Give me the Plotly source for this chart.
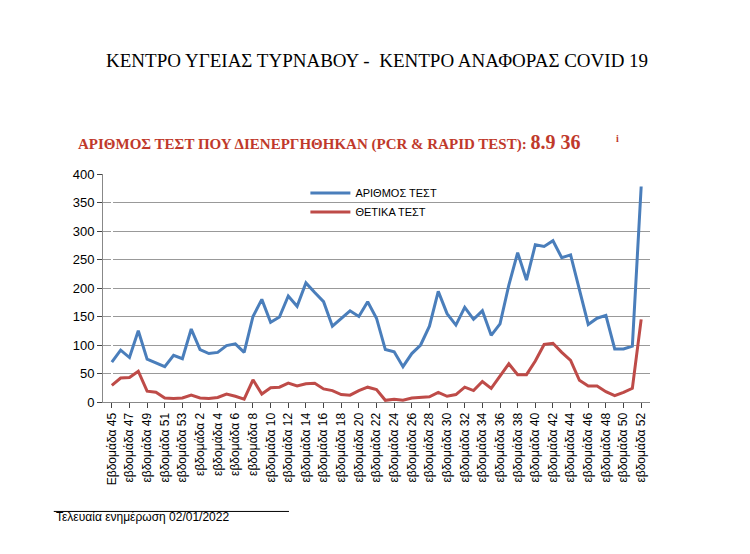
import plotly.graph_objects as go

# weeks 45..53 of 2020, then 1..52 of 2021
weeks = list(range(45, 54)) + list(range(1, 53))
week_labels = [("Εβδομάδα " if i < 2 else "εβδομάδα ") + str(w) for i, w in enumerate(weeks)]

tests = [70, 91, 78, 125, 75, 69, 62, 82, 76, 128, 92, 85, 87, 99, 102, 87, 150, 180, 140, 149,
         186, 168, 209, 192, 176, 133, 147, 160, 150, 176, 147, 92, 88, 62, 85, 100, 133, 194, 155, 135,
         166, 145, 160, 117, 137, 205, 262, 214, 276, 273, 283, 253, 258, 195, 136, 147, 152, 93, 93, 98, 378]
positive = [29, 42, 43, 54, 19, 17, 7, 6, 7, 12, 7, 6, 8, 14, 10, 5, 39, 14, 25, 26,
            33, 28, 32, 33, 23, 20, 13, 12, 20, 26, 22, 3, 5, 3, 7, 8, 9, 17, 10, 13,
            26, 20, 36, 24, 45, 67, 48, 48, 72, 101, 103, 87, 73, 38, 28, 28, 18, 11, 17, 24, 145]

xs = list(range(len(weeks)))

fig = go.Figure()
fig.add_trace(go.Scatter(x=xs, y=tests, mode="lines", name="ΑΡΙΘΜΟΣ ΤΕΣΤ",
                         line=dict(color="#4a7ebb", width=3)))
fig.add_trace(go.Scatter(x=xs, y=positive, mode="lines", name="ΘΕΤΙΚΑ ΤΕΣΤ",
                         line=dict(color="#be4b48", width=3)))

fig.update_layout(
  width=750, height=554,
  paper_bgcolor="white", plot_bgcolor="white",
  margin=dict(l=95, r=108, t=166, b=160),
  font=dict(family="Liberation Sans", size=12, color="black"),
  showlegend=True,
  legend=dict(x=0.37, y=0.98, xanchor="left", yanchor="top", bgcolor="rgba(0,0,0,0)",
              font=dict(size=11), itemwidth=40, tracegroupgap=12),
  annotations=[
    dict(text="ΚΕΝΤΡΟ ΥΓΕΙΑΣ ΤΥΡΝΑΒΟΥ -  ΚΕΝΤΡΟ ΑΝΑΦΟΡΑΣ COVID 19", xref="paper", yref="paper",
         x=0.5, y=1.5, xanchor="center", yanchor="middle", showarrow=False,
         font=dict(family="Liberation Serif", size=19)),
    dict(text="<b>ΑΡΙΘΜΟΣ ΤΕΣΤ ΠΟΥ ΔΙΕΝΕΡΓΗΘΗΚΑΝ (PCR & RAPID TEST): <span style='font-size:20px'>8.9 36</span></b>",
         xref="paper", yref="paper", x=-0.05, y=1.14, xanchor="left", yanchor="middle", showarrow=False,
         font=dict(family="Liberation Serif", size=15, color="#c0392b")),
    dict(text="<b>i</b>", xref="paper", yref="paper", x=0.935, y=1.155, xanchor="left", yanchor="middle",
         showarrow=False, font=dict(family="Liberation Serif", size=10, color="#c0392b")),
    dict(text="Τελευαία ενημέρωση 02/01/2022", xref="paper", yref="paper", x=-0.09, y=-0.545,
         xanchor="left", showarrow=False, font=dict(size=12)),
  ],
  shapes=[dict(type="line", xref="paper", yref="paper", x0=-0.09, x1=0.34, y0=-0.48, y1=-0.48,
               line=dict(color="black", width=1))],
)
fig.update_xaxes(tickvals=xs[::2], ticktext=week_labels[::2], range=[-1, len(xs)],
                 tickangle=-90, showgrid=False, ticks="outside",
                 ticklen=5, showline=True, linecolor="#888", tickfont=dict(size=12))
fig.update_yaxes(range=[0, 400], dtick=50, showgrid=True, gridcolor="#999", gridwidth=1,
                 showline=True, linecolor="#888", ticks="outside", ticklen=5, zeroline=False,
                 tickfont=dict(size=13))

fig.write_html("out.html")
